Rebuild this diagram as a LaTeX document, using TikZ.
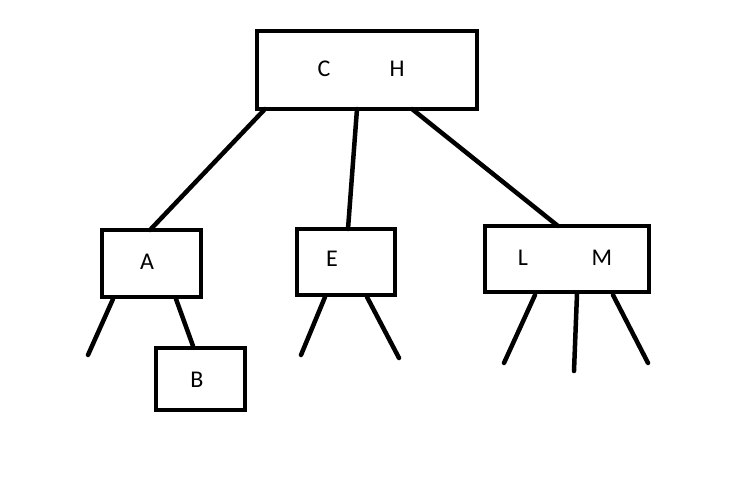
\documentclass[tikz,border=0pt]{standalone}
\usepackage{fontspec}
\setmainfont{Carlito}
\begin{document}
\begin{tikzpicture}[x=1pt,y=-1pt,
  keybox/.style={draw=black,line width=4.5pt,rectangle,inner sep=0pt,outer sep=0pt,miter limit=10},
  keytext/.style={font=\fontsize{24}{26}\selectfont,inner sep=0pt},
  edge/.style={draw=black,line width=4.5pt,line cap=round}]
\useasboundingbox[fill=white] (0,0) rectangle (734,488);
% boxes
\node[keybox,minimum width=220pt,minimum height=78pt] (top) at (367,70) {};
\node[keybox,minimum width=99pt,minimum height=67pt] (A) at (151.5,263.5) {};
\node[keybox,minimum width=89pt,minimum height=62pt] (B) at (200.5,379) {};
\node[keybox,minimum width=98pt,minimum height=66pt] (E) at (346,262) {};
\node[keybox,minimum width=164pt,minimum height=66pt] (LM) at (567,259) {};
% labels
\node[keytext] (tC) at (324,69) {C};
\node[keytext] (tH) at (397,69) {H};
\node[keytext] (tA) at (147,262) {A};
\node[keytext] (tB) at (197,380) {B};
\node[keytext] (tE) at (332,259) {E};
\node[keytext] (tL) at (523,258) {L};
\node[keytext] (tM) at (602,258) {M};
% free ends
\coordinate (a1) at (88,355);
\coordinate (e1) at (301,355);
\coordinate (e2) at (399,358);
\coordinate (l1) at (504,363);
\coordinate (l2) at (574,371);
\coordinate (l3) at (648,363);
% connectors
\draw[edge] ([xshift=8pt]top.south west) -- ([xshift=48pt]A.north west);
\draw[edge] ([xshift=100pt]top.south west) -- ([xshift=51pt]E.north west);
\draw[edge] ([xshift=155pt]top.south west) -- ([xshift=73pt]LM.north west);
\draw[edge] ([xshift=11pt,yshift=-2pt]A.south west) -- (a1);
\draw[edge] ([xshift=74pt,yshift=-2pt]A.south west) -- ([xshift=37pt,yshift=2pt]B.north west);
\draw[edge] ([xshift=28pt,yshift=-2pt]E.south west) -- (e1);
\draw[edge] ([xshift=70pt,yshift=-2pt]E.south west) -- (e2);
\draw[edge] ([xshift=50pt,yshift=-3pt]LM.south west) -- (l1);
\draw[edge] ([xshift=92pt,yshift=-2pt]LM.south west) -- (l2);
\draw[edge] ([xshift=128pt,yshift=-3pt]LM.south west) -- (l3);
\end{tikzpicture}
\end{document}
